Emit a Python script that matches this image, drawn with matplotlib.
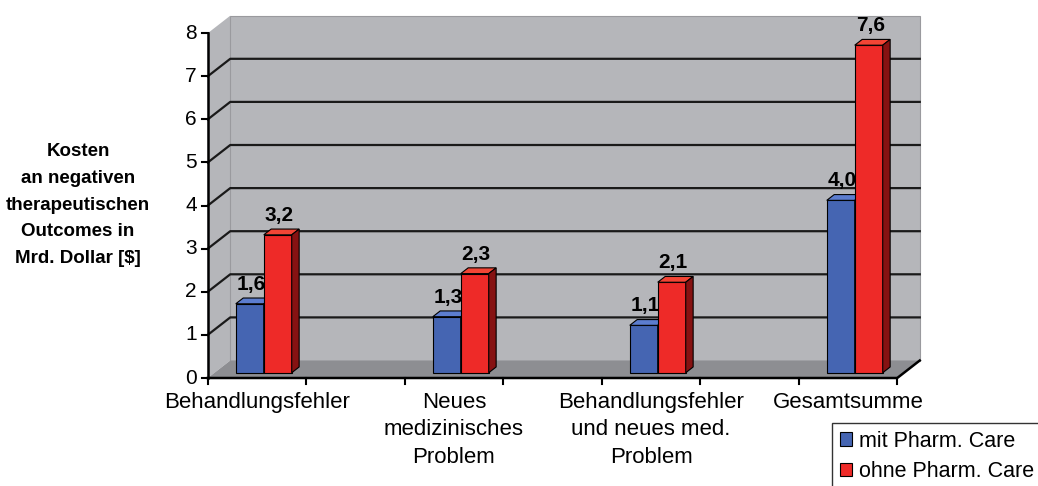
import matplotlib.pyplot as plt
from matplotlib.patches import Polygon, Patch

plt.rcParams["font.family"] = ["Liberation Sans", "DejaVu Sans"]

categories = [
    "Behandlungsfehler",
    "Neues\nmedizinisches\nProblem",
    "Behandlungsfehler\nund neues med.\nProblem",
    "Gesamtsumme",
]
series_names = ["mit Pharm. Care", "ohne Pharm. Care"]
mit_care = [1.6, 1.3, 1.1, 4.0]
ohne_care = [3.2, 2.3, 2.1, 7.6]
y_ticks = [0, 1, 2, 3, 4, 5, 6, 7, 8]
y_label = "Kosten\nan negativen\ntherapeutischen\nOutcomes in\nMrd. Dollar [$]"

front_colors = ["#4565b2", "#ee2a28"]
top_colors = ["#5c7dcf", "#f24535"]
side_colors = ["#2b4182", "#861212"]
wall_color = "#b5b6ba"
floor_color = "#8d8e92"

# pixel layout of the 3-D box
W, H = 1038, 486
PX0, PXU = 257, 197      # category 0 center, px per category
PY0, PYU = 378, 43.1     # value 0 baseline, px per unit
DX, DY = 22.5 / PXU, 17.5 / PYU   # full depth offset in data units
X0, X1 = -0.25, 3.25
YMAX = 8
BW = 0.142               # bar width
F0, F1 = 0.3, 0.63       # bar depth span (fraction of box depth)

fig = plt.figure(figsize=(W / 100, H / 100), dpi=100)
ax = fig.add_axes([0, 0, 1, 1])
ax.set_xlim(-PX0 / PXU, (W - PX0) / PXU)
ax.set_ylim((PY0 - H) / PYU, PY0 / PYU)
ax.axis("off")

# walls and floor
ax.add_patch(Polygon([(X0, 0), (X0 + DX, DY), (X0 + DX, YMAX + DY), (X0, YMAX)],
                     closed=True, facecolor=wall_color, edgecolor="none", zorder=1))
ax.add_patch(Polygon([(X0 + DX, DY), (X1 + DX, DY), (X1 + DX, YMAX + DY), (X0 + DX, YMAX + DY)],
                     closed=True, facecolor=wall_color, edgecolor="#9a9a9e", lw=0.8, zorder=1))
ax.add_patch(Polygon([(X0, 0), (X1, 0), (X1 + DX, DY), (X0 + DX, DY)],
                     closed=True, facecolor=floor_color, edgecolor="none", zorder=1))

# gridlines
for v in y_ticks[1:-1]:
    ax.plot([X0, X0 + DX, X1 + DX], [v, v + DY, v + DY], color="#1a1a1a", lw=1.6, zorder=2)

# axes lines and ticks
ax.plot([X0, X0], [0, YMAX], color="black", lw=1.8, zorder=3)
ax.plot([X0, X1, X1 + DX], [0, 0, DY], color="black", lw=1.8, zorder=3)
for v in y_ticks:
    ax.plot([X0 - 0.03, X0], [v, v], color="black", lw=1.5, zorder=3)
    ax.text(X0 - 0.055, v, str(v), ha="right", va="center", fontsize=15)
xt = X0
while xt <= X1 + 1e-9:
    ax.plot([xt, xt], [0, -0.15], color="black", lw=1.5, zorder=3)
    xt += 0.5

# bars
for s, vals in enumerate([mit_care, ohne_care]):
    lefts = [i - BW + s * BW + F0 * DX for i in range(len(vals))]
    ax.bar(lefts, vals, width=BW, bottom=F0 * DY, align="edge",
           color=front_colors[s], edgecolor="black", lw=0.8, zorder=5 + s)
    ddx, ddy = (F1 - F0) * DX, (F1 - F0) * DY
    for xl, v in zip(lefts, vals):
        yb, yt = F0 * DY, F0 * DY + v
        ax.add_patch(Polygon([(xl, yt), (xl + BW, yt), (xl + BW + ddx, yt + ddy), (xl + ddx, yt + ddy)],
                             closed=True, facecolor=top_colors[s], edgecolor="black", lw=0.8, zorder=5 + s))
        ax.add_patch(Polygon([(xl + BW, yb), (xl + BW + ddx, yb + ddy), (xl + BW + ddx, yt + ddy), (xl + BW, yt)],
                             closed=True, facecolor=side_colors[s], edgecolor="black", lw=0.8, zorder=5 + s))
        ax.annotate(f"{v:.1f}".replace(".", ","), (xl + BW / 2 + ddx * 0.2, yt + ddy),
                    xytext=(0, 3), textcoords="offset points", ha="center", va="bottom",
                    fontsize=15, fontweight="bold", zorder=10)

# category labels
for i, name in enumerate(categories):
    ax.annotate(name, (i, 0), xytext=(0, -10), textcoords="offset points",
                ha="center", va="top", fontsize=16, linespacing=1.4)

# y label
fig.text(78 / W, 1 - 205 / H, y_label, ha="center", va="center",
         fontsize=13.5, fontweight="bold", linespacing=1.75)

handles = [Patch(facecolor=c, edgecolor="black", lw=0.8) for c in front_colors]
fig.legend(handles, series_names, loc="upper left", bbox_to_anchor=(832 / W, 1 - 423 / H),
           fontsize=15.5, frameon=True, fancybox=False, edgecolor="black",
           handlelength=0.6, handleheight=0.6, handletextpad=0.3, labelspacing=0.45,
           borderpad=0.35, borderaxespad=0)

fig.savefig("out.png", dpi=100)
